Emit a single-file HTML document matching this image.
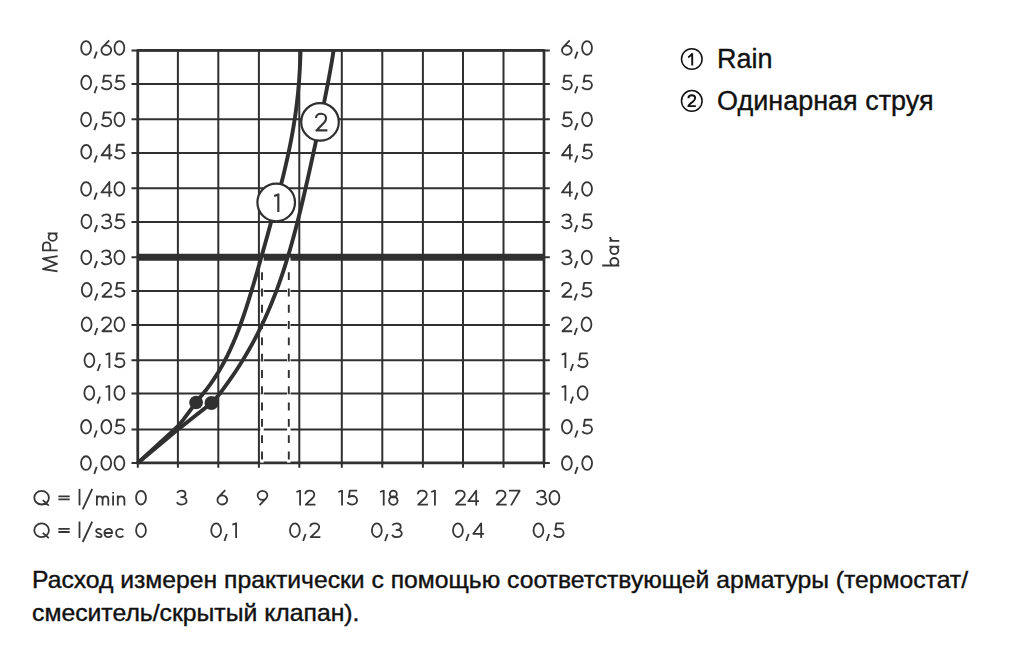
<!DOCTYPE html>
<html><head><meta charset="utf-8"><style>
html,body{margin:0;padding:0;background:#fff;width:1024px;height:652px;overflow:hidden}
svg{position:absolute;left:0;top:0}
.lg{font-family:"Liberation Sans",sans-serif;font-size:27px;fill:#111;stroke:#111;stroke-width:0.35px}
.ft{font-family:"Liberation Sans",sans-serif;font-size:24px;fill:#111;stroke:#111;stroke-width:0.4px}
</style></head><body>
<svg width="1024" height="652" viewBox="0 0 1024 652">
<g stroke="#303030" fill="none">
<line x1="131.5" y1="50.4" x2="549.8" y2="50.4" stroke-width="2.0"/>
<line x1="137.8" y1="50.4" x2="544.0" y2="50.4" stroke-width="2.7"/>
<line x1="131.5" y1="84.0" x2="549.8" y2="84.0" stroke-width="2.0"/>
<line x1="131.5" y1="119.3" x2="549.8" y2="119.3" stroke-width="2.0"/>
<line x1="131.5" y1="153.0" x2="549.8" y2="153.0" stroke-width="2.0"/>
<line x1="131.5" y1="188.3" x2="549.8" y2="188.3" stroke-width="2.0"/>
<line x1="131.5" y1="222.0" x2="549.8" y2="222.0" stroke-width="2.0"/>
<line x1="131.5" y1="257.3" x2="549.8" y2="257.3" stroke-width="2.0"/>
<line x1="131.5" y1="291.0" x2="549.8" y2="291.0" stroke-width="2.0"/>
<line x1="131.5" y1="325.0" x2="549.8" y2="325.0" stroke-width="2.0"/>
<line x1="131.5" y1="360.2" x2="549.8" y2="360.2" stroke-width="2.0"/>
<line x1="131.5" y1="393.6" x2="549.8" y2="393.6" stroke-width="2.0"/>
<line x1="131.5" y1="429.4" x2="549.8" y2="429.4" stroke-width="2.0"/>
<line x1="131.5" y1="462.9" x2="549.8" y2="462.9" stroke-width="2.0"/>
<line x1="137.8" y1="462.9" x2="544.0" y2="462.9" stroke-width="2.7"/>
<line x1="137.8" y1="50.4" x2="137.8" y2="467.8" stroke-width="2.0"/>
<line x1="137.8" y1="49.2" x2="137.8" y2="464.2" stroke-width="2.7"/>
<line x1="177.9" y1="50.4" x2="177.9" y2="467.8" stroke-width="2.0"/>
<line x1="218.3" y1="50.4" x2="218.3" y2="467.8" stroke-width="2.0"/>
<line x1="258.9" y1="50.4" x2="258.9" y2="467.8" stroke-width="2.0"/>
<line x1="299.3" y1="50.4" x2="299.3" y2="467.8" stroke-width="2.0"/>
<line x1="341.8" y1="50.4" x2="341.8" y2="467.8" stroke-width="2.0"/>
<line x1="382.3" y1="50.4" x2="382.3" y2="467.8" stroke-width="2.0"/>
<line x1="422.9" y1="50.4" x2="422.9" y2="467.8" stroke-width="2.0"/>
<line x1="463.0" y1="50.4" x2="463.0" y2="467.8" stroke-width="2.0"/>
<line x1="503.5" y1="50.4" x2="503.5" y2="467.8" stroke-width="2.0"/>
<line x1="544.0" y1="50.4" x2="544.0" y2="467.8" stroke-width="2.0"/>
<line x1="544.0" y1="49.2" x2="544.0" y2="464.2" stroke-width="2.7"/>
</g>
<line x1="137.8" y1="257.3" x2="544" y2="257.3" stroke="#303030" stroke-width="7.0"/>
<g stroke="#fff" stroke-width="3.4">
<line x1="262" y1="257.5" x2="262" y2="462.6"/>
<line x1="288.8" y1="257.5" x2="288.8" y2="462.6"/>
</g>
<g stroke="#303030" stroke-width="1.9" stroke-dasharray="7.9 8.4">
<line x1="262" y1="272.2" x2="262" y2="460"/>
<line x1="288.8" y1="272.2" x2="288.8" y2="460"/>
</g>
<g stroke="#303030" fill="none" stroke-width="3.9" stroke-linejoin="round">
<path d="M137.8,462.9 L171.50,432.20 L177.60,426.40 L183.50,419.40 L189.50,411.30 L196.00,402.50 L200.76,396.54 L205.61,390.57 L210.07,384.61 L214.18,378.64 L217.97,372.68 L221.49,366.71 L224.74,360.75 L227.77,354.78 L230.59,348.82 L233.24,342.86 L235.73,336.89 L238.08,330.93 L240.31,324.96 L242.44,319.00 L244.49,313.03 L246.46,307.07 L248.36,301.11 L250.22,295.14 L252.03,289.18 L253.81,283.21 L255.56,277.25 L257.29,271.28 L259.00,265.32 L260.70,259.35 L262.39,253.39 L264.07,247.43 L265.74,241.46 L267.41,235.50 L269.06,229.53 L270.71,223.57 L272.34,217.60 L273.96,211.64 L275.57,205.67 L277.15,199.71 L278.72,193.75 L280.25,187.78 L281.76,181.82 L283.23,175.85 L284.66,169.89 L286.05,163.92 L287.39,157.96 L288.68,151.99 L289.91,146.03 L291.09,140.07 L292.20,134.10 L293.25,128.14 L294.23,122.17 L295.14,116.21 L295.98,110.24 L296.74,104.28 L297.44,98.32 L298.06,92.35 L298.61,86.39 L299.09,80.42 L299.50,74.46 L299.85,68.49 L300.14,62.53 L300.38,56.56 L300.58,50.60"/>
<path d="M137.8,462.9 L179.00,428.60 L195.00,416.00 L211.40,403.10 L217.05,397.13 L221.65,391.15 L226.07,385.18 L230.32,379.20 L234.41,373.23 L238.34,367.25 L242.11,361.28 L245.73,355.30 L249.20,349.33 L252.52,343.35 L255.71,337.38 L258.77,331.41 L261.70,325.43 L264.50,319.46 L267.19,313.48 L269.77,307.51 L272.24,301.53 L274.60,295.56 L276.88,289.58 L279.06,283.61 L281.15,277.63 L283.17,271.66 L285.10,265.68 L286.97,259.71 L288.78,253.74 L290.52,247.76 L292.21,241.79 L293.85,235.81 L295.44,229.84 L296.99,223.86 L298.50,217.89 L299.98,211.91 L301.42,205.94 L302.85,199.96 L304.24,193.99 L305.62,188.02 L306.98,182.04 L308.32,176.07 L309.66,170.09 L310.98,164.12 L312.29,158.14 L313.59,152.17 L314.89,146.19 L316.17,140.22 L317.45,134.24 L318.73,128.27 L319.99,122.29 L321.24,116.32 L322.49,110.35 L323.72,104.37 L324.93,98.40 L326.12,92.42 L327.29,86.45 L328.43,80.47 L329.54,74.50 L330.61,68.52 L331.64,62.55 L332.62,56.57 L333.54,50.60"/>
</g>
<g fill="#303030">
<ellipse cx="196.1" cy="402.5" rx="6.9" ry="6.8"/>
<ellipse cx="211.5" cy="403.0" rx="7.0" ry="6.9"/>
</g>
<g fill="#fff" stroke="#303030" stroke-width="2.2">
<circle cx="276.2" cy="202.5" r="18.8"/>
<circle cx="320" cy="121.9" r="18.8"/>
</g>
<g fill="none" stroke="#363636" stroke-width="1.8" stroke-linejoin="round">
<path transform="translate(80.20,55.65)" d="M0.96,-7.75 A4.92,6.85,0.00,1,0,10.81,-7.75 A4.92,6.85,0.00,1,0,0.96,-7.75 M16.60,-4.00 L14.14,3.00 M21.23,-5.45 A4.87,4.55,0.00,1,0,30.96,-5.45 A4.87,4.55,0.00,1,0,21.23,-5.45 M29.04,-15.30 L22.48,-8.50 M34.29,-7.75 A4.92,6.85,0.00,1,0,44.13,-7.75 A4.92,6.85,0.00,1,0,34.29,-7.75"/>
<path transform="translate(561.00,55.65)" d="M0.96,-5.45 A4.87,4.55,0.00,1,0,10.70,-5.45 A4.87,4.55,0.00,1,0,0.96,-5.45 M8.77,-15.30 L2.21,-8.50 M16.49,-4.00 L14.03,3.00 M21.12,-7.75 A4.92,6.85,0.00,1,0,30.96,-7.75 A4.92,6.85,0.00,1,0,21.12,-7.75"/>
<path transform="translate(80.31,90.25)" d="M0.96,-7.75 A4.92,6.85,0.00,1,0,10.81,-7.75 A4.92,6.85,0.00,1,0,0.96,-7.75 M16.60,-4.00 L14.14,3.00 M31.18,-14.70 L23.80,-14.70 L22.83,-8.30 C23.80,-9.00,25.08,-9.40,26.36,-9.40 C29.04,-9.40,31.07,-7.50,31.07,-5.10 C31.07,-2.60,29.04,-0.80,26.26,-0.80 C24.12,-0.80,22.19,-1.80,21.23,-3.20 M44.24,-14.70 L36.86,-14.70 L35.90,-8.30 C36.86,-9.00,38.14,-9.40,39.43,-9.40 C42.10,-9.40,44.13,-7.50,44.13,-5.10 C44.13,-2.60,42.10,-0.80,39.32,-0.80 C37.18,-0.80,35.25,-1.80,34.29,-3.20"/>
<path transform="translate(561.00,90.25)" d="M10.91,-14.70 L3.53,-14.70 L2.57,-8.30 C3.53,-9.00,4.82,-9.40,6.10,-9.40 C8.77,-9.40,10.81,-7.50,10.81,-5.10 C10.81,-2.60,8.77,-0.80,5.99,-0.80 C3.85,-0.80,1.93,-1.80,0.96,-3.20 M16.49,-4.00 L14.03,3.00 M31.07,-14.70 L23.69,-14.70 L22.73,-8.30 C23.69,-9.00,24.97,-9.40,26.26,-9.40 C28.93,-9.40,30.96,-7.50,30.96,-5.10 C30.96,-2.60,28.93,-0.80,26.15,-0.80 C24.01,-0.80,22.08,-1.80,21.12,-3.20"/>
<path transform="translate(80.20,127.15)" d="M0.96,-7.75 A4.92,6.85,0.00,1,0,10.81,-7.75 A4.92,6.85,0.00,1,0,0.96,-7.75 M16.60,-4.00 L14.14,3.00 M31.18,-14.70 L23.80,-14.70 L22.83,-8.30 C23.80,-9.00,25.08,-9.40,26.36,-9.40 C29.04,-9.40,31.07,-7.50,31.07,-5.10 C31.07,-2.60,29.04,-0.80,26.26,-0.80 C24.12,-0.80,22.19,-1.80,21.23,-3.20 M34.29,-7.75 A4.92,6.85,0.00,1,0,44.13,-7.75 A4.92,6.85,0.00,1,0,34.29,-7.75"/>
<path transform="translate(561.00,127.15)" d="M10.91,-14.70 L3.53,-14.70 L2.57,-8.30 C3.53,-9.00,4.82,-9.40,6.10,-9.40 C8.77,-9.40,10.81,-7.50,10.81,-5.10 C10.81,-2.60,8.77,-0.80,5.99,-0.80 C3.85,-0.80,1.93,-1.80,0.96,-3.20 M16.49,-4.00 L14.03,3.00 M21.12,-7.75 A4.92,6.85,0.00,1,0,30.96,-7.75 A4.92,6.85,0.00,1,0,21.12,-7.75"/>
<path transform="translate(80.31,159.45)" d="M0.96,-7.75 A4.92,6.85,0.00,1,0,10.81,-7.75 A4.92,6.85,0.00,1,0,0.96,-7.75 M16.60,-4.00 L14.14,3.00 M29.15,0.00 L29.15,-14.70 L21.23,-4.20 L31.93,-4.20 M44.24,-14.70 L36.86,-14.70 L35.90,-8.30 C36.86,-9.00,38.14,-9.40,39.43,-9.40 C42.10,-9.40,44.13,-7.50,44.13,-5.10 C44.13,-2.60,42.10,-0.80,39.32,-0.80 C37.18,-0.80,35.25,-1.80,34.29,-3.20"/>
<path transform="translate(561.00,159.45)" d="M8.88,0.00 L8.88,-14.70 L0.96,-4.20 L11.66,-4.20 M16.49,-4.00 L14.03,3.00 M31.07,-14.70 L23.69,-14.70 L22.73,-8.30 C23.69,-9.00,24.97,-9.40,26.26,-9.40 C28.93,-9.40,30.96,-7.50,30.96,-5.10 C30.96,-2.60,28.93,-0.80,26.15,-0.80 C24.01,-0.80,22.08,-1.80,21.12,-3.20"/>
<path transform="translate(80.20,196.65)" d="M0.96,-7.75 A4.92,6.85,0.00,1,0,10.81,-7.75 A4.92,6.85,0.00,1,0,0.96,-7.75 M16.60,-4.00 L14.14,3.00 M29.15,0.00 L29.15,-14.70 L21.23,-4.20 L31.93,-4.20 M34.29,-7.75 A4.92,6.85,0.00,1,0,44.13,-7.75 A4.92,6.85,0.00,1,0,34.29,-7.75"/>
<path transform="translate(561.00,196.65)" d="M8.88,0.00 L8.88,-14.70 L0.96,-4.20 L11.66,-4.20 M16.49,-4.00 L14.03,3.00 M21.12,-7.75 A4.92,6.85,0.00,1,0,30.96,-7.75 A4.92,6.85,0.00,1,0,21.12,-7.75"/>
<path transform="translate(80.52,229.15)" d="M0.96,-7.75 A4.92,6.85,0.00,1,0,10.81,-7.75 A4.92,6.85,0.00,1,0,0.96,-7.75 M16.60,-4.00 L14.14,3.00 M21.33,-12.60 C22.19,-14.00,23.80,-14.70,25.61,-14.70 C28.08,-14.70,29.79,-13.20,29.79,-11.30 C29.79,-9.30,28.18,-8.20,25.94,-8.20 L24.76,-8.20 M25.94,-8.20 C28.72,-8.20,30.86,-6.60,30.86,-4.40 C30.86,-2.20,28.72,-0.80,25.83,-0.80 C23.80,-0.80,21.98,-1.60,21.12,-3.20 M44.03,-14.70 L36.64,-14.70 L35.68,-8.30 C36.64,-9.00,37.93,-9.40,39.21,-9.40 C41.89,-9.40,43.92,-7.50,43.92,-5.10 C43.92,-2.60,41.89,-0.80,39.10,-0.80 C36.97,-0.80,35.04,-1.80,34.08,-3.20"/>
<path transform="translate(561.00,229.15)" d="M1.07,-12.60 C1.93,-14.00,3.53,-14.70,5.35,-14.70 C7.81,-14.70,9.52,-13.20,9.52,-11.30 C9.52,-9.30,7.92,-8.20,5.67,-8.20 L4.49,-8.20 M5.67,-8.20 C8.45,-8.20,10.59,-6.60,10.59,-4.40 C10.59,-2.20,8.45,-0.80,5.56,-0.80 C3.53,-0.80,1.71,-1.60,0.86,-3.20 M16.28,-4.00 L13.82,3.00 M30.86,-14.70 L23.47,-14.70 L22.51,-8.30 C23.47,-9.00,24.76,-9.40,26.04,-9.40 C28.72,-9.40,30.75,-7.50,30.75,-5.10 C30.75,-2.60,28.72,-0.80,25.94,-0.80 C23.80,-0.80,21.87,-1.80,20.91,-3.20"/>
<path transform="translate(80.42,265.15)" d="M0.96,-7.75 A4.92,6.85,0.00,1,0,10.81,-7.75 A4.92,6.85,0.00,1,0,0.96,-7.75 M16.60,-4.00 L14.14,3.00 M21.33,-12.60 C22.19,-14.00,23.80,-14.70,25.61,-14.70 C28.08,-14.70,29.79,-13.20,29.79,-11.30 C29.79,-9.30,28.18,-8.20,25.94,-8.20 L24.76,-8.20 M25.94,-8.20 C28.72,-8.20,30.86,-6.60,30.86,-4.40 C30.86,-2.20,28.72,-0.80,25.83,-0.80 C23.80,-0.80,21.98,-1.60,21.12,-3.20 M34.08,-7.75 A4.92,6.85,0.00,1,0,43.92,-7.75 A4.92,6.85,0.00,1,0,34.08,-7.75"/>
<path transform="translate(561.00,265.15)" d="M1.07,-12.60 C1.93,-14.00,3.53,-14.70,5.35,-14.70 C7.81,-14.70,9.52,-13.20,9.52,-11.30 C9.52,-9.30,7.92,-8.20,5.67,-8.20 L4.49,-8.20 M5.67,-8.20 C8.45,-8.20,10.59,-6.60,10.59,-4.40 C10.59,-2.20,8.45,-0.80,5.56,-0.80 C3.53,-0.80,1.71,-1.60,0.86,-3.20 M16.28,-4.00 L13.82,3.00 M20.91,-7.75 A4.92,6.85,0.00,1,0,30.75,-7.75 A4.92,6.85,0.00,1,0,20.91,-7.75"/>
<path transform="translate(80.84,297.55)" d="M0.96,-7.75 A4.92,6.85,0.00,1,0,10.81,-7.75 A4.92,6.85,0.00,1,0,0.96,-7.75 M16.60,-4.00 L14.14,3.00 M21.28,-11.20 C21.28,-13.50,23.37,-14.70,25.72,-14.70 C28.29,-14.70,30.22,-13.10,30.22,-10.90 C30.22,-9.50,29.57,-8.50,28.61,-7.40 L21.66,-0.80 L31.39,-0.80 M43.71,-14.70 L36.32,-14.70 L35.36,-8.30 C36.32,-9.00,37.61,-9.40,38.89,-9.40 C41.57,-9.40,43.60,-7.50,43.60,-5.10 C43.60,-2.60,41.57,-0.80,38.78,-0.80 C36.64,-0.80,34.72,-1.80,33.76,-3.20"/>
<path transform="translate(561.00,297.55)" d="M1.02,-11.20 C1.02,-13.50,3.10,-14.70,5.46,-14.70 C8.03,-14.70,9.95,-13.10,9.95,-10.90 C9.95,-9.50,9.31,-8.50,8.35,-7.40 L1.39,-0.80 L11.13,-0.80 M15.96,-4.00 L13.50,3.00 M30.54,-14.70 L23.15,-14.70 L22.19,-8.30 C23.15,-9.00,24.44,-9.40,25.72,-9.40 C28.40,-9.40,30.43,-7.50,30.43,-5.10 C30.43,-2.60,28.40,-0.80,25.61,-0.80 C23.47,-0.80,21.55,-1.80,20.59,-3.20"/>
<path transform="translate(80.74,332.05)" d="M0.96,-7.75 A4.92,6.85,0.00,1,0,10.81,-7.75 A4.92,6.85,0.00,1,0,0.96,-7.75 M16.60,-4.00 L14.14,3.00 M21.28,-11.20 C21.28,-13.50,23.37,-14.70,25.72,-14.70 C28.29,-14.70,30.22,-13.10,30.22,-10.90 C30.22,-9.50,29.57,-8.50,28.61,-7.40 L21.66,-0.80 L31.39,-0.80 M33.76,-7.75 A4.92,6.85,0.00,1,0,43.60,-7.75 A4.92,6.85,0.00,1,0,33.76,-7.75"/>
<path transform="translate(561.00,332.05)" d="M1.02,-11.20 C1.02,-13.50,3.10,-14.70,5.46,-14.70 C8.03,-14.70,9.95,-13.10,9.95,-10.90 C9.95,-9.50,9.31,-8.50,8.35,-7.40 L1.39,-0.80 L11.13,-0.80 M15.96,-4.00 L13.50,3.00 M20.59,-7.75 A4.92,6.85,0.00,1,0,30.43,-7.75 A4.92,6.85,0.00,1,0,20.59,-7.75"/>
<path transform="translate(83.53,368.05)" d="M0.96,-7.75 A4.92,6.85,0.00,1,0,10.81,-7.75 A4.92,6.85,0.00,1,0,0.96,-7.75 M16.60,-4.00 L14.14,3.00 M22.11,-13.40 L25.85,-14.70 M25.85,0.00 L25.85,-15.50 M41.02,-14.70 L33.64,-14.70 L32.67,-8.30 C33.64,-9.00,34.92,-9.40,36.21,-9.40 C38.88,-9.40,40.91,-7.50,40.91,-5.10 C40.91,-2.60,38.88,-0.80,36.10,-0.80 C33.96,-0.80,32.03,-1.80,31.07,-3.20"/>
<path transform="translate(561.00,368.05)" d="M0.64,-13.40 L4.39,-14.70 M4.39,0.00 L4.39,-15.50 M12.07,-4.00 L9.61,3.00 M26.65,-14.70 L19.27,-14.70 L18.31,-8.30 C19.27,-9.00,20.55,-9.40,21.84,-9.40 C24.51,-9.40,26.54,-7.50,26.54,-5.10 C26.54,-2.60,24.51,-0.80,21.73,-0.80 C19.59,-0.80,17.66,-1.80,16.70,-3.20"/>
<path transform="translate(83.42,400.65)" d="M0.96,-7.75 A4.92,6.85,0.00,1,0,10.81,-7.75 A4.92,6.85,0.00,1,0,0.96,-7.75 M16.60,-4.00 L14.14,3.00 M22.11,-13.40 L25.85,-14.70 M25.85,0.00 L25.85,-15.50 M31.07,-7.75 A4.92,6.85,0.00,1,0,40.91,-7.75 A4.92,6.85,0.00,1,0,31.07,-7.75"/>
<path transform="translate(561.00,400.65)" d="M0.64,-13.40 L4.39,-14.70 M4.39,0.00 L4.39,-15.50 M12.07,-4.00 L9.61,3.00 M16.70,-7.75 A4.92,6.85,0.00,1,0,26.54,-7.75 A4.92,6.85,0.00,1,0,16.70,-7.75"/>
<path transform="translate(80.20,434.45)" d="M0.96,-7.75 A4.92,6.85,0.00,1,0,10.81,-7.75 A4.92,6.85,0.00,1,0,0.96,-7.75 M16.60,-4.00 L14.14,3.00 M21.23,-7.75 A4.92,6.85,0.00,1,0,31.07,-7.75 A4.92,6.85,0.00,1,0,21.23,-7.75 M44.35,-14.70 L36.97,-14.70 L36.00,-8.30 C36.97,-9.00,38.25,-9.40,39.53,-9.40 C42.21,-9.40,44.24,-7.50,44.24,-5.10 C44.24,-2.60,42.21,-0.80,39.43,-0.80 C37.29,-0.80,35.36,-1.80,34.40,-3.20"/>
<path transform="translate(561.00,434.45)" d="M0.96,-7.75 A4.92,6.85,0.00,1,0,10.81,-7.75 A4.92,6.85,0.00,1,0,0.96,-7.75 M16.60,-4.00 L14.14,3.00 M31.18,-14.70 L23.80,-14.70 L22.83,-8.30 C23.80,-9.00,25.08,-9.40,26.36,-9.40 C29.04,-9.40,31.07,-7.50,31.07,-5.10 C31.07,-2.60,29.04,-0.80,26.26,-0.80 C24.12,-0.80,22.19,-1.80,21.23,-3.20"/>
<path transform="translate(80.10,470.85)" d="M0.96,-7.75 A4.92,6.85,0.00,1,0,10.81,-7.75 A4.92,6.85,0.00,1,0,0.96,-7.75 M16.60,-4.00 L14.14,3.00 M21.23,-7.75 A4.92,6.85,0.00,1,0,31.07,-7.75 A4.92,6.85,0.00,1,0,21.23,-7.75 M34.40,-7.75 A4.92,6.85,0.00,1,0,44.24,-7.75 A4.92,6.85,0.00,1,0,34.40,-7.75"/>
<path transform="translate(561.00,470.85)" d="M0.96,-7.75 A4.92,6.85,0.00,1,0,10.81,-7.75 A4.92,6.85,0.00,1,0,0.96,-7.75 M16.60,-4.00 L14.14,3.00 M21.23,-7.75 A4.92,6.85,0.00,1,0,31.07,-7.75 A4.92,6.85,0.00,1,0,21.23,-7.75"/>
<path transform="translate(135.12,505.40)" d="M0.96,-7.75 A4.92,6.85,0.00,1,0,10.81,-7.75 A4.92,6.85,0.00,1,0,0.96,-7.75"/>
<path transform="translate(175.98,505.40)" d="M1.07,-12.60 C1.93,-14.00,3.53,-14.70,5.35,-14.70 C7.81,-14.70,9.52,-13.20,9.52,-11.30 C9.52,-9.30,7.92,-8.20,5.67,-8.20 L4.49,-8.20 M5.67,-8.20 C8.45,-8.20,10.59,-6.60,10.59,-4.40 C10.59,-2.20,8.45,-0.80,5.56,-0.80 C3.53,-0.80,1.71,-1.60,0.86,-3.20"/>
<path transform="translate(216.47,505.40)" d="M0.96,-5.45 A4.87,4.55,0.00,1,0,10.70,-5.45 A4.87,4.55,0.00,1,0,0.96,-5.45 M8.77,-15.30 L2.21,-8.50"/>
<path transform="translate(256.67,505.40)" d="M0.96,-10.05 A4.87,4.55,0.00,1,0,10.70,-10.05 A4.87,4.55,0.00,1,0,0.96,-10.05 M2.89,-0.20 L9.45,-7.00"/>
<path transform="translate(295.71,505.40)" d="M0.64,-13.40 L4.39,-14.70 M4.39,0.00 L4.39,-15.50 M9.66,-11.20 C9.66,-13.50,11.75,-14.70,14.10,-14.70 C16.67,-14.70,18.59,-13.10,18.59,-10.90 C18.59,-9.50,17.95,-8.50,16.99,-7.40 L10.03,-0.80 L19.77,-0.80"/>
<path transform="translate(337.65,505.40)" d="M0.64,-13.40 L4.39,-14.70 M4.39,0.00 L4.39,-15.50 M19.56,-14.70 L12.17,-14.70 L11.21,-8.30 C12.17,-9.00,13.46,-9.40,14.74,-9.40 C17.42,-9.40,19.45,-7.50,19.45,-5.10 C19.45,-2.60,17.42,-0.80,14.64,-0.80 C12.50,-0.80,10.57,-1.80,9.61,-3.20"/>
<path transform="translate(379.33,505.40)" d="M0.64,-13.40 L4.39,-14.70 M4.39,0.00 L4.39,-15.50 M10.52,-11.45 A3.48,3.25,0.00,1,0,17.47,-11.45 A3.48,3.25,0.00,1,0,10.52,-11.45 M9.77,-4.75 A4.23,3.95,0.00,1,0,18.22,-4.75 A4.23,3.95,0.00,1,0,9.77,-4.75"/>
<path transform="translate(416.81,505.40)" d="M1.02,-11.20 C1.02,-13.50,3.10,-14.70,5.46,-14.70 C8.03,-14.70,9.95,-13.10,9.95,-10.90 C9.95,-9.50,9.31,-8.50,8.35,-7.40 L1.39,-0.80 L11.13,-0.80 M14.37,-13.40 L18.12,-14.70 M18.12,0.00 L18.12,-15.50"/>
<path transform="translate(454.80,505.40)" d="M1.02,-11.20 C1.02,-13.50,3.10,-14.70,5.46,-14.70 C8.03,-14.70,9.95,-13.10,9.95,-10.90 C9.95,-9.50,9.31,-8.50,8.35,-7.40 L1.39,-0.80 L11.13,-0.80 M21.41,0.00 L21.41,-14.70 L13.49,-4.20 L24.19,-4.20"/>
<path transform="translate(495.56,505.40)" d="M1.02,-11.20 C1.02,-13.50,3.10,-14.70,5.46,-14.70 C8.03,-14.70,9.95,-13.10,9.95,-10.90 C9.95,-9.50,9.31,-8.50,8.35,-7.40 L1.39,-0.80 L11.13,-0.80 M13.49,-14.70 L24.08,-14.70 L15.52,0.00"/>
<path transform="translate(535.69,505.40)" d="M1.07,-12.60 C1.93,-14.00,3.53,-14.70,5.35,-14.70 C7.81,-14.70,9.52,-13.20,9.52,-11.30 C9.52,-9.30,7.92,-8.20,5.67,-8.20 L4.49,-8.20 M5.67,-8.20 C8.45,-8.20,10.59,-6.60,10.59,-4.40 C10.59,-2.20,8.45,-0.80,5.56,-0.80 C3.53,-0.80,1.71,-1.60,0.86,-3.20 M13.81,-7.75 A4.92,6.85,0.00,1,0,23.66,-7.75 A4.92,6.85,0.00,1,0,13.81,-7.75"/>
<path transform="translate(135.12,538.00)" d="M0.96,-7.75 A4.92,6.85,0.00,1,0,10.81,-7.75 A4.92,6.85,0.00,1,0,0.96,-7.75"/>
<path transform="translate(210.25,538.00)" d="M0.96,-7.75 A4.92,6.85,0.00,1,0,10.81,-7.75 A4.92,6.85,0.00,1,0,0.96,-7.75 M16.60,-4.00 L14.14,3.00 M22.11,-13.40 L25.85,-14.70 M25.85,0.00 L25.85,-15.50"/>
<path transform="translate(289.00,538.00)" d="M0.96,-7.75 A4.92,6.85,0.00,1,0,10.81,-7.75 A4.92,6.85,0.00,1,0,0.96,-7.75 M16.60,-4.00 L14.14,3.00 M21.28,-11.20 C21.28,-13.50,23.37,-14.70,25.72,-14.70 C28.29,-14.70,30.22,-13.10,30.22,-10.90 C30.22,-9.50,29.57,-8.50,28.61,-7.40 L21.66,-0.80 L31.39,-0.80"/>
<path transform="translate(370.94,538.00)" d="M0.96,-7.75 A4.92,6.85,0.00,1,0,10.81,-7.75 A4.92,6.85,0.00,1,0,0.96,-7.75 M16.60,-4.00 L14.14,3.00 M21.33,-12.60 C22.19,-14.00,23.80,-14.70,25.61,-14.70 C28.08,-14.70,29.79,-13.20,29.79,-11.30 C29.79,-9.30,28.18,-8.20,25.94,-8.20 L24.76,-8.20 M25.94,-8.20 C28.72,-8.20,30.86,-6.60,30.86,-4.40 C30.86,-2.20,28.72,-0.80,25.83,-0.80 C23.80,-0.80,21.98,-1.60,21.12,-3.20"/>
<path transform="translate(452.04,538.00)" d="M0.96,-7.75 A4.92,6.85,0.00,1,0,10.81,-7.75 A4.92,6.85,0.00,1,0,0.96,-7.75 M16.60,-4.00 L14.14,3.00 M29.15,0.00 L29.15,-14.70 L21.23,-4.20 L31.93,-4.20"/>
<path transform="translate(532.54,538.00)" d="M0.96,-7.75 A4.92,6.85,0.00,1,0,10.81,-7.75 A4.92,6.85,0.00,1,0,0.96,-7.75 M16.60,-4.00 L14.14,3.00 M31.18,-14.70 L23.80,-14.70 L22.83,-8.30 C23.80,-9.00,25.08,-9.40,26.36,-9.40 C29.04,-9.40,31.07,-7.50,31.07,-5.10 C31.07,-2.60,29.04,-0.80,26.26,-0.80 C24.12,-0.80,22.19,-1.80,21.23,-3.20"/>
<path transform="translate(33.40,505.40)" d="M0.90,-7.75 A7.30,6.85 0 1 0 15.50,-7.75 A7.30,6.85 0 1 0 0.90,-7.75 M9.4,-5.2 L15.4,0.2"/>
<path transform="translate(58.40,505.40)" d="M0,-9.1 L11.3,-9.1 M0,-6.0 L11.3,-6.0"/>
<path transform="translate(78.70,505.40)" d="M0.8,0 L0.8,-16.5"/>
<path transform="translate(81.90,505.40)" d="M10.3,-16.4 L0.8,4.0"/>
<path transform="translate(33.40,538.00)" d="M0.90,-7.75 A7.30,6.85 0 1 0 15.50,-7.75 A7.30,6.85 0 1 0 0.90,-7.75 M9.4,-5.2 L15.4,0.2"/>
<path transform="translate(58.40,538.00)" d="M0,-9.1 L11.3,-9.1 M0,-6.0 L11.3,-6.0"/>
<path transform="translate(78.70,538.00)" d="M0.8,0 L0.8,-16.5"/>
<path transform="translate(81.90,538.00)" d="M10.3,-16.4 L0.8,4.0"/>
<path transform="translate(96.10,505.40)" d="M0.8,0 L0.8,-9.9 M0.8,-6.2 C0.8,-8.3 2.0,-9.1 3.6,-9.1 C5.3,-9.1 6.5,-8.2 6.5,-6.0 L6.5,0 M6.5,-6.0 C6.5,-8.2 7.7,-9.1 9.4,-9.1 C11.0,-9.1 12.2,-8.2 12.2,-6.0 L12.2,0"/>
<path transform="translate(112.30,505.40)" d="M0.8,0 L0.8,-9.9 M0.8,-13.5 L0.8,-11.8"/>
<path transform="translate(117.00,505.40)" d="M0.8,0 L0.8,-9.9 M0.8,-6.2 C0.8,-8.3 2.4,-9.1 4.2,-9.1 C6.1,-9.1 7.4,-8.1 7.4,-6.0 L7.4,0"/>
<path transform="translate(95.20,538.00)" d="M6.0,-7.9 C5.5,-8.7 4.6,-9.1 3.5,-9.1 C2.0,-9.1 1.0,-8.3 1.0,-6.9 C1.0,-4.2 6.4,-5.2 6.4,-2.6 C6.4,-1.3 5.1,-0.8 3.6,-0.8 C2.3,-0.8 1.2,-1.3 0.7,-2.3"/>
<path transform="translate(103.50,538.00)" d="M1.0,-5.0 L8.6,-5.0 C8.6,-7.5 7.0,-9.1 4.8,-9.1 C2.5,-9.1 0.9,-7.2 0.9,-4.95 C0.9,-2.5 2.6,-0.8 4.8,-0.8 C6.4,-0.8 7.6,-1.5 8.3,-2.8"/>
<path transform="translate(115.20,538.00)" d="M8.2,-7.7 C7.4,-8.7 6.3,-9.1 5.0,-9.1 C2.6,-9.1 0.9,-7.2 0.9,-4.95 C0.9,-2.6 2.6,-0.8 5.0,-0.8 C6.3,-0.8 7.5,-1.3 8.2,-2.2"/>
<path transform="translate(57.6,272.30) rotate(-90)" d="M0.9,0 L3.3,-14.7 L8.5,-0.6 L13.7,-14.7 L16.1,0"/>
<path transform="translate(57.6,251.10) rotate(-90)" d="M0.8,0 L0.8,-14.7 L4.5,-14.7 C7.1,-14.7 8.7,-13.2 8.7,-11.0 C8.7,-8.8 7.1,-7.3 4.5,-7.3 L0.8,-7.3"/>
<path transform="translate(57.6,241.70) rotate(-90)" d="M0.90,-4.95 A3.75,4.05 0 1 0 8.40,-4.95 A3.75,4.05 0 1 0 0.90,-4.95 M8.4,0 L8.4,-9.9"/>
<path transform="translate(619.3,266.40) rotate(-90)" d="M0.90,-4.95 A3.75,4.05 0 1 0 8.40,-4.95 A3.75,4.05 0 1 0 0.90,-4.95 M0.9,0 L0.9,-17.1"/>
<path transform="translate(619.3,255.00) rotate(-90)" d="M0.90,-4.95 A3.75,4.05 0 1 0 8.40,-4.95 A3.75,4.05 0 1 0 0.90,-4.95 M8.4,0 L8.4,-9.9"/>
<path transform="translate(619.3,241.60) rotate(-90)" d="M0.8,0 L0.8,-9.9 M0.8,-6.6 C1.4,-8.5 2.8,-9.1 4.6,-9.1"/>
<path transform="translate(273.4,212.1) scale(1.2)" d="M0.60,-13.40 L4.10,-14.70 M4.10,0 L4.10,-15.50"/>
<path transform="translate(314.9,131.4) scale(1.2)" d="M0.95,-11.2 C0.95,-13.5 2.9,-14.7 5.1,-14.7 C7.5,-14.7 9.3,-13.1 9.3,-10.9 C9.3,-9.5 8.7,-8.5 7.8,-7.4 L1.3,-0.8 L10.4,-0.8"/>
</g>
<g fill="none" stroke="#111" stroke-width="1.5">
<circle cx="691.8" cy="59" r="10.3"/>
<circle cx="691.8" cy="100.9" r="10.3"/>
</g>
<g fill="none" stroke="#111" stroke-width="1.9">
<path d="M688.2,57.3 C689.8,56.5 691.2,55.3 692.0,53.6 M692.2,53.2 L692.2,65.6"/>
<path d="M688.4,98.3 C688.4,96.1 689.8,95.2 691.8,95.2 C693.8,95.2 695.2,96.4 695.2,98.1 C695.2,99.6 694.2,100.6 692.6,101.9 C690.4,103.6 688.7,104.8 688.5,106.1 L695.8,106.1"/>
</g>
<text x="717" y="67.9" class="lg">Rain</text>
<text x="717" y="109.5" class="lg">Одинарная струя</text>
<text x="32" y="588.3" class="ft" textLength="936" lengthAdjust="spacingAndGlyphs">Расход измерен практически с помощью соответствующей арматуры (термостат/</text>
<text x="32" y="620.6" class="ft" textLength="327.5" lengthAdjust="spacingAndGlyphs">смеситель/скрытый клапан).</text>
</svg>
</body></html>
